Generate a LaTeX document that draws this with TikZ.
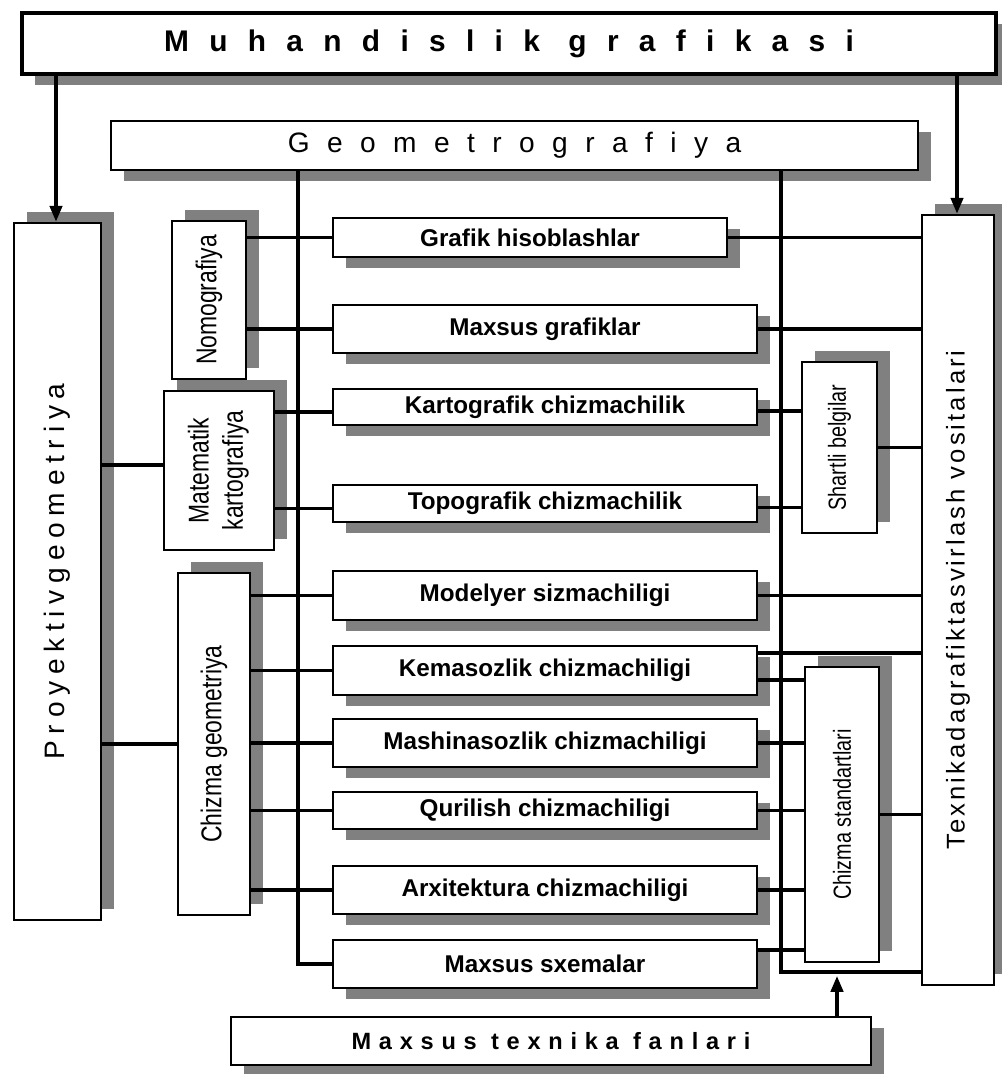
\documentclass[tikz,border=0pt]{standalone}
\usepackage{fontspec}
\setmainfont{Liberation Sans}
\newfontfamily\narrowfont[FakeStretch=0.8]{Liberation Sans}
\usetikzlibrary{arrows.meta,shadows}
\begin{document}
\begin{tikzpicture}[x=0.02cm,y=-0.02cm,
  sz/.style 2 args={minimum width=#1*0.02cm,minimum height=#2*0.02cm},
  shd/.style={drop shadow={shadow xshift=0.26cm,shadow yshift=-0.22cm,fill=black!50,opacity=1}},
  vshd/.style={drop shadow={shadow xshift=0.26cm,shadow yshift=0.22cm,fill=black!50,opacity=1}},
  box/.style={draw=black,line width=1.5pt,fill=white,inner sep=0pt,align=center,anchor=center},
  hbox/.style={box,shd,font=\fontsize{13.8}{16}\selectfont\bfseries},
  vbox/.style={box,vshd,font=\narrowfont\fontsize{16.3}{19.5}\selectfont},
  vboxs/.style={box,vshd,font=\narrowfont\fontsize{14.1}{17}\selectfont},
  conn/.style={line width=1.9pt},
  arr/.style={line width=1.9pt,-{Triangle[length=9pt,width=7pt]}}
]
\useasboundingbox (0,0) rectangle (1001,1074);

% top level
\node[box,shd,line width=2.4pt,sz={974}{61}] (top) at (509,43.5)
  {\fontsize{17}{20}\selectfont\bfseries\addfontfeature{LetterSpace=68}Muhandislik grafikasi};
\node[box,shd,sz={807}{49}] (geo) at (514.5,145.5)
  {\fontsize{16}{19}\selectfont\addfontfeature{LetterSpace=62}Geometrografiya};

% big vertical boxes
\node[box,vshd,sz={87}{697}] (proy) at (57.5,571.5)
  {\rotatebox{90}{\fontsize{16}{19}\selectfont\addfontfeature{LetterSpace=24}Proyektivgeometriya}};
\node[box,vshd,sz={72}{770}] (texn) at (958,600)
  {\rotatebox{90}{\fontsize{14.6}{17}\selectfont\addfontfeature{LetterSpace=12}Texnikadagrafiktasvirlash vositalari}};

% left narrow boxes
\node[vbox,sz={74}{158}] (nomo) at (209,300) {\rotatebox{90}{Nomografiya}};
\node[vbox,sz={110}{159}] (matk) at (219,470.5)
  {\rotatebox{90}{\begin{tabular}{@{}c@{}}Matematik\\kartografiya\end{tabular}}};
\node[vbox,sz={72}{342}] (chg) at (214,744) {\rotatebox{90}{Chizma geometriya}};

% right narrow boxes
\node[vboxs,sz={75}{171}] (shb) at (839.5,447.5) {\rotatebox{90}{Shartli belgilar}};
\node[vboxs,sz={74}{295}] (chs) at (842,814.5) {\rotatebox{90}{Chizma standartlari}};

% middle boxes
\node[hbox,sz={394}{39}] (gh) at (530,237.5) {Grafik hisoblashlar};
\node[hbox,sz={424}{48}] (mg) at (545,329) {Maxsus grafiklar};
\node[hbox,sz={424}{36}] (kc) at (545,407) {Kartografik chizmachilik};
\node[hbox,sz={424}{37}] (tc) at (545,503.5) {Topografik chizmachilik};
\node[hbox,sz={424}{49}] (ms) at (545,595.5) {Modelyer sizmachiligi};
\node[hbox,sz={424}{49}] (ke) at (545,670.5) {Kemasozlik chizmachiligi};
\node[hbox,sz={424}{48}] (ma) at (545,743) {Mashinasozlik chizmachiligi};
\node[hbox,sz={424}{37}] (qu) at (545,810.5) {Qurilish chizmachiligi};
\node[hbox,sz={424}{48}] (ar) at (545,890) {Arxitektura chizmachiligi};
\node[hbox,sz={424}{48}] (mx) at (545,964) {Maxsus sxemalar};

% bottom box
\node[box,shd,sz={640}{48}] (mtf) at (551,1041)
  {\fontsize{13.4}{16}\selectfont\bfseries\addfontfeature{LetterSpace=33}Maxsus texnika fanlari};

% arrows from top
\coordinate (aL) at (56,74);
\coordinate (aR) at (957,74);
\draw[arr] (aL) -- (aL |- proy.north);
\draw[arr] (aR) -- (aR |- texn.north);

% trunks
\coordinate (tl) at (298,170);
\coordinate (tr) at (781,170);
\coordinate (trb) at (781,972);
\draw[conn] (tl) |- (mx.west);
\draw[conn] (tr) -- (trb) -- (trb -| texn.west);

% left connectors
\coordinate (kcL) at ([yshift=-0.1cm]kc.west);
\coordinate (tcL) at ([yshift=-0.1cm]tc.west);
\coordinate (matkL) at ([yshift=0.11cm]matk.west);
\draw[conn] (nomo.east |- gh.west) -- (gh.west);
\draw[conn] (nomo.east |- mg.west) -- (mg.west);
\draw[conn] (matk.east |- kcL) -- (kcL);
\draw[conn] (matk.east |- tcL) -- (tcL);
\draw[conn] (chg.east |- ms.west) -- (ms.west);
\draw[conn] (chg.east |- ke.west) -- (ke.west);
\draw[conn] (chg.east |- ma.west) -- (ma.west);
\draw[conn] (chg.east |- qu.west) -- (qu.west);
\draw[conn] (chg.east |- ar.west) -- (ar.west);
\draw[conn] (proy.east |- matkL) -- (matkL);
\draw[conn] (proy.east |- chg.west) -- (chg.west);

% right connectors
\coordinate (kcR) at ([yshift=-0.08cm]kc.east);
\coordinate (tcR) at ([yshift=-0.08cm]tc.east);
\coordinate (keA) at ([yshift=0.35cm]ke.east);
\coordinate (keB) at ([yshift=-0.19cm]ke.east);
\coordinate (mxR) at ([yshift=0.28cm]mx.east);
\draw[conn] (gh.east) -- (gh.east -| texn.west);
\draw[conn] (mg.east) -- (mg.east -| texn.west);
\draw[conn] (kcR) -- (kcR -| shb.west);
\draw[conn] (tcR) -- (tcR -| shb.west);
\draw[conn] (shb.east) -- (shb.east -| texn.west);
\draw[conn] (ms.east) -- (ms.east -| texn.west);
\draw[conn] (keA) -- (keA -| texn.west);
\draw[conn] (keB) -- (keB -| chs.west);
\draw[conn] (ma.east) -- (ma.east -| chs.west);
\draw[conn] (qu.east) -- (qu.east -| chs.west);
\draw[conn] (ar.east) -- (ar.east -| chs.west);
\draw[conn] (mxR) -- (mxR -| chs.west);
\draw[conn] (chs.east) -- (chs.east -| texn.west);

% arrow from bottom box
\coordinate (aB) at (837,976);
\draw[arr] (aB |- mtf.north) -- (aB);
\end{tikzpicture}
\end{document}
